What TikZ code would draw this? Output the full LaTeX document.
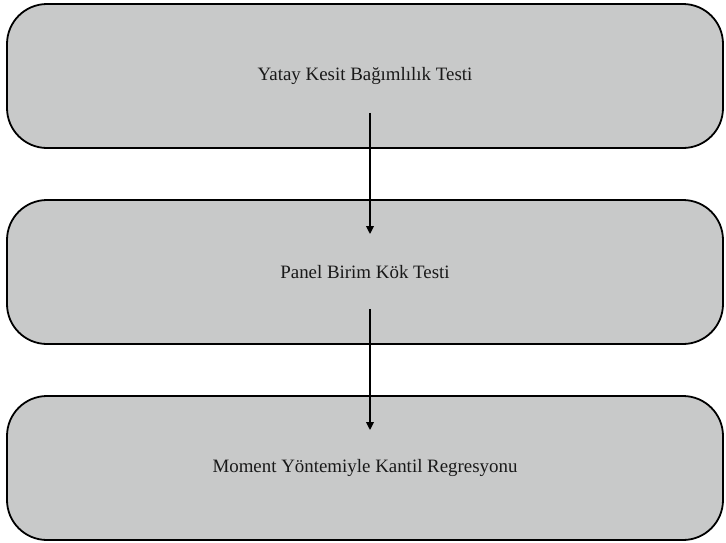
\documentclass[tikz,border=0pt]{standalone}
\usepackage{fontspec}
\setmainfont{Liberation Serif}
\usetikzlibrary{arrows.meta}
\definecolor{boxgray}{RGB}{200,201,201}
\begin{document}
\begin{tikzpicture}[x=1pt,y=1pt,
  stagebox/.style={draw=black, line width=1.8pt, fill=boxgray, rounded corners=40pt,
    minimum width=716pt, minimum height=144pt, inner sep=0pt,
    font=\fontsize{18.9}{22}\selectfont, text=black!90},
  flow/.style={line width=1.8pt, -{Triangle[length=8pt,width=7.5pt]}}]
\useasboundingbox (0,0) rectangle (726,-542);
\node[stagebox] (b1) at (365,-76) {Yatay Kesit Bağımlılık Testi};
\node[stagebox] (b2) at (365,-272) {Panel Birim Kök Testi};
\node[stagebox] (b3) at (365,-468) {Moment Yöntemiyle Kantil Regresyonu};
\coordinate (s1) at ([xshift=5pt,yshift=36pt]b1.south);
\coordinate (e1) at ([xshift=5pt,yshift=-35pt]b2.north);
\coordinate (s2) at ([xshift=5pt,yshift=36pt]b2.south);
\coordinate (e2) at ([xshift=5pt,yshift=-35pt]b3.north);
\draw[flow] (s1) -- (e1);
\draw[flow] (s2) -- (e2);
\end{tikzpicture}
\end{document}
